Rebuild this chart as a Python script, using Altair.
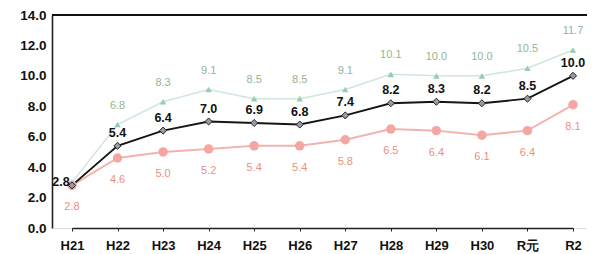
import altair as alt
import pandas as pd

years = ["H21", "H22", "H23", "H24", "H25", "H26", "H27", "H28", "H29", "H30", "R元", "R2"]
green_vals = [3.0, 6.8, 8.3, 9.1, 8.5, 8.5, 9.1, 10.1, 10.0, 10.0, 10.5, 11.7]
black_vals = [2.8, 5.4, 6.4, 7.0, 6.9, 6.8, 7.4, 8.2, 8.3, 8.2, 8.5, 10.0]
red_vals = [2.8, 4.6, 5.0, 5.2, 5.4, 5.4, 5.8, 6.5, 6.4, 6.1, 6.4, 8.1]
y_ticks = [0, 2, 4, 6, 8, 10, 12, 14]

rows = []
for i, y in enumerate(years):
    rows.append({"year": y, "series": "green", "value": green_vals[i], "idx": i})
    rows.append({"year": y, "series": "black", "value": black_vals[i], "idx": i})
    rows.append({"year": y, "series": "red", "value": red_vals[i], "idx": i})
df = pd.DataFrame(rows)
df["label"] = df["value"].map(lambda v: f"{v:.1f}")

FONT = "Liberation Sans"
x_enc = alt.X("year:N", sort=years,
              scale=alt.Scale(type="point", range=[20, 521], padding=0),
              axis=alt.Axis(title=None, labelFont=FONT, labelFontSize=13, labelFontWeight="bold",
                            labelColor="#111", labelAngle=0, labelPadding=8, domainColor="#222",
                            domainWidth=1.6, tickColor="#222", tickSize=3, grid=False))
y_enc = alt.Y("value:Q", scale=alt.Scale(domain=[0, 14]),
              axis=alt.Axis(title=None, values=y_ticks, format=".1f", labelFont=FONT,
                            labelFontSize=13.5, labelFontWeight="bold", labelColor="#111",
                            labelOverlap=False, labelFlush=False,
                            labelPadding=6, domainColor="#222", domainWidth=1.6,
                            tickSize=0, grid=False))

base = alt.Chart(df).encode(x=x_enc, y=y_enc)

def sel(s):
    return alt.datum.series == s

green_line = base.transform_filter(sel("green")).mark_line(color="#cfe6d8", strokeWidth=1.5)
black_line = base.transform_filter(sel("black")).mark_line(color="#151515", strokeWidth=1.9)
red_line = base.transform_filter(sel("red")).mark_line(color="#f2b3ad", strokeWidth=2.0)

green_pts = base.transform_filter(sel("green")).mark_point(
    shape="triangle-up", filled=True, color="#96cdb2", size=42, opacity=1)
black_pts = base.transform_filter(sel("black")).mark_point(
    shape="diamond", filled=True, fill="#9a9aa6", stroke="#222", strokeWidth=1, size=50, opacity=1)
red_pts = base.transform_filter(sel("red")).mark_point(
    shape="circle", filled=True, color="#f4a7a2", size=90, opacity=1)

green_lbl = base.transform_filter("datum.series == 'green' && datum.idx > 0").mark_text(
    font=FONT, fontSize=11, color="#93b595", dy=-19).encode(text="label:N")
black_lbl = base.transform_filter("datum.series == 'black' && datum.idx > 0").mark_text(
    font=FONT, fontSize=12.5, fontWeight="bold", color="#111", dy=-13).encode(text="label:N")
black_lbl0 = base.transform_filter("datum.series == 'black' && datum.idx == 0").mark_text(
    font=FONT, fontSize=12.5, fontWeight="bold", color="#111", dx=-11, dy=-3).encode(text="label:N")
red_lbl = base.transform_filter(sel("red")).mark_text(
    font=FONT, fontSize=11, color="#ea8f7f", dy=22).encode(text="label:N")

top_border = alt.Chart(pd.DataFrame({"value": [14]})).mark_rule(color="#111", strokeWidth=2.2).encode(
    y=y_enc, x=alt.value(0), x2=alt.value(560))

chart = alt.layer(
    green_line, red_line, black_line,
    green_pts, red_pts, black_pts,
    green_lbl, black_lbl, black_lbl0, red_lbl,
    top_border,
).properties(
    width=535, height=213,
    autosize=alt.AutoSizeParams(type="none"),
    padding={"left": 44, "top": 7, "right": 0, "bottom": 30},
).configure_view(stroke=None).configure(background="white")

chart.save("out.html", embed_options={"renderer": "svg", "actions": False})
